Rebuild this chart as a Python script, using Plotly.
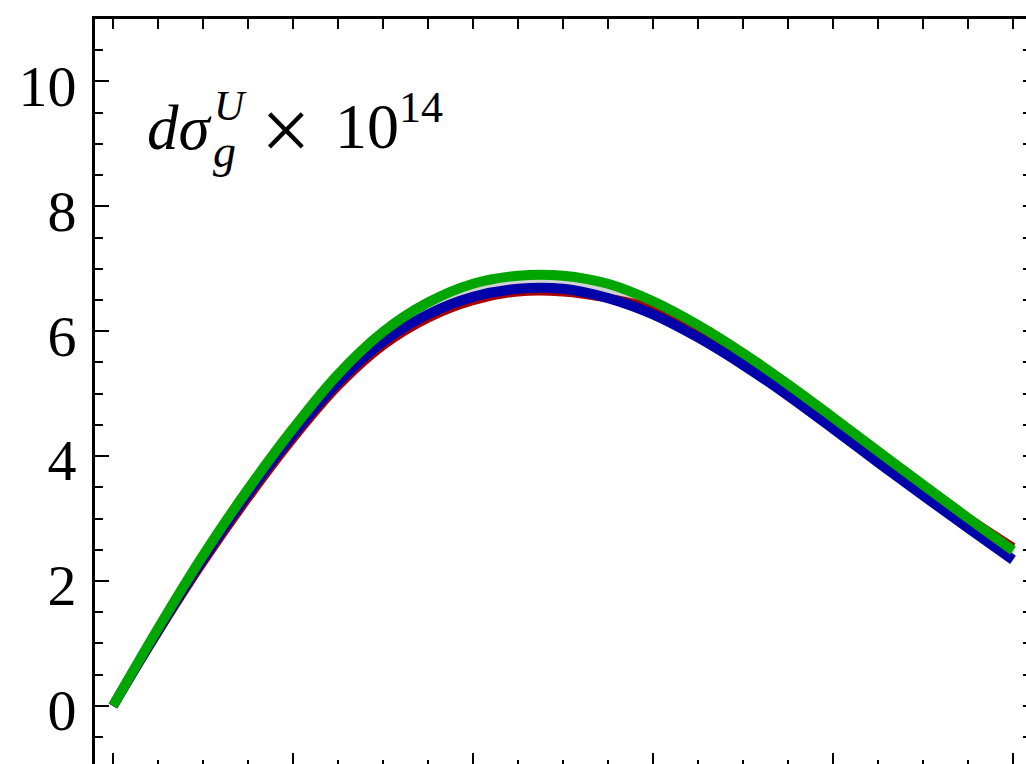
import plotly.graph_objects as go

# Sample positions along the horizontal axis
x_vals = [0.0, 0.025, 0.05, 0.075, 0.1, 0.125, 0.15, 0.175, 0.2, 0.225, 0.25,
          0.275, 0.3, 0.325, 0.35, 0.375, 0.4, 0.425, 0.45, 0.475, 0.5]

# Cross-section curves (units of 10^-14)
green_vals = [0.0, 1.24, 2.41, 3.47, 4.44, 5.31, 5.99, 6.46, 6.76, 6.89, 6.89,
              6.76, 6.48, 6.10, 5.65, 5.15, 4.62, 4.08, 3.54, 3.01, 2.49]
blue_vals = [0.0, 1.21, 2.35, 3.39, 4.34, 5.18, 5.83, 6.27, 6.55, 6.68, 6.68,
             6.53, 6.27, 5.90, 5.46, 4.97, 4.44, 3.90, 3.37, 2.85, 2.34]
red_vals = [0.0, 1.18, 2.30, 3.33, 4.28, 5.12, 5.77, 6.21, 6.49, 6.63, 6.63,
            6.53, 6.36, 5.99, 5.55, 5.06, 4.54, 4.02, 3.50, 3.01, 2.54]
gray_vals = [0.0, 1.22, 2.38, 3.43, 4.39, 5.25, 5.91, 6.37, 6.66, 6.79, 6.79,
             6.65, 6.38, 6.00, 5.56, 5.06, 4.53, 3.99, 3.46, 2.93, 2.42]

y_major = [0, 2, 4, 6, 8, 10]
y_labels = ["0", "2", "4", "6", "8", "10"]
x_major = [0.0, 0.1, 0.2, 0.3, 0.4, 0.5]

W, H = 1026, 764
L, T = 95, 19
SERIF = "Liberation Serif, Times New Roman, serif"

fig = go.Figure()

series = [
    (gray_vals, "#d2d2d2", 9),
    (red_vals, "#aa0000", 9),
    (blue_vals, "#0000aa", 10),
    (green_vals, "#00a600", 10),
]
for vals, color, width in series:
    fig.add_trace(go.Scatter(
        x=x_vals, y=vals, mode="lines",
        line=dict(color=color, width=width, shape="spline", smoothing=1.0),
        hoverinfo="skip", showlegend=False,
    ))

# Carrier for the mirrored top/right axes
fig.add_trace(go.Scatter(
    x=x_vals[:1], y=green_vals[:1], mode="markers", marker=dict(opacity=0),
    xaxis="x2", yaxis="y2", hoverinfo="skip", showlegend=False,
))

x_range = [-0.01, (W - 113) / 1800.0]
y_range = [-0.93, 11.0]

fig.update_layout(
    width=W, height=H,
    margin=dict(l=L, r=0, t=T, b=0, pad=0),
    paper_bgcolor="white", plot_bgcolor="white",
    font=dict(family=SERIF, color="black"),
    xaxis=dict(
        range=x_range, showline=False, showgrid=False, zeroline=False,
        ticks="inside", tickvals=x_major, ticklen=11, tickwidth=2,
        tickcolor="black", showticklabels=False,
        minor=dict(dtick=0.025, tick0=0, ticks="inside", ticklen=4,
                   tickwidth=1.5, tickcolor="black", showgrid=False),
    ),
    yaxis=dict(
        range=y_range, showline=True, linewidth=3, linecolor="black",
        showgrid=False, zeroline=False,
        ticks="inside", tickvals=y_major, ticktext=y_labels, ticklen=14,
        tickwidth=2, tickcolor="black", ticklabelstandoff=4,
        ticklabelshift=4,
        tickfont=dict(family=SERIF, size=58, color="black"),
        minor=dict(dtick=0.5, tick0=0, ticks="inside", ticklen=8,
                   tickwidth=1.5, tickcolor="black", showgrid=False),
    ),
    xaxis2=dict(
        overlaying="x", side="top", matches="x", anchor="y2",
        showline=True, linewidth=3, linecolor="black",
        showgrid=False, zeroline=False, showticklabels=False,
        ticks="inside", tick0=0, dtick=0.025, ticklen=10, tickwidth=1.5,
        tickcolor="black",
    ),
    yaxis2=dict(
        overlaying="y", side="right", matches="y", anchor="x2",
        showline=False, showgrid=False, zeroline=False, showticklabels=False,
        ticks="inside", tick0=0, dtick=0.5, ticklen=3, tickwidth=1.5,
        tickcolor="black",
    ),
)


def px(X):
    return (X - L) / (W - L)


def py(Y):
    return (H - Y) / (H - T)


label_parts = [
    ("<i>dσ</i>", 145, 128, 63),
    ("<i>U</i>", 212, 106, 42),
    ("<i>g</i>", 211, 151, 46),
    ("×", 259, 131, 88),
    ("10", 333, 127, 64),
    ("14", 397, 108, 44),
]
for text, X, Y, size in label_parts:
    fig.add_annotation(
        text=text, xref="paper", yref="paper", x=px(X), y=py(Y),
        xanchor="left", yanchor="middle", showarrow=False,
        font=dict(family=SERIF, size=size, color="black"),
    )

fig.write_html("out.html")
